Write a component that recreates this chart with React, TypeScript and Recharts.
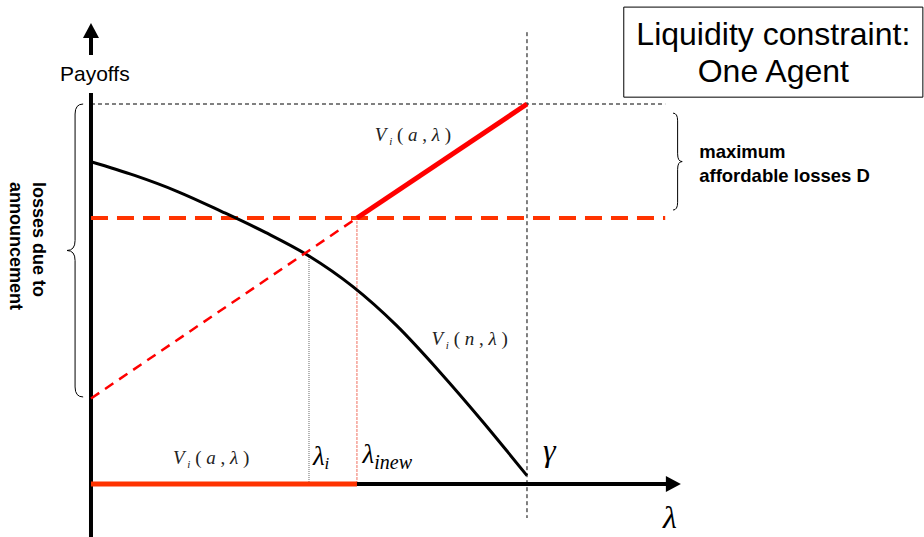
import React from 'react';
import { Line, LineChart, ReferenceArea, ReferenceDot, ReferenceLine, XAxis, YAxis } from 'recharts';

// lambda grid and V_i(n, lambda) (gamma = 10, top of D = 10)
const LAMBDA = [0, 1, 2, 3, 4, 5, 6, 7, 8, 9, 10];
const VN = [8.48, 8.12, 7.69, 7.17, 6.62, 6.0, 5.2, 4.18, 2.95, 1.62, 0.22];

// V_i(a, lambda): straight line, dashed below lambda_inew, solid above
const VA_LAMBDA = [0, 6.1, 10];
const VA_VALUE = [2.25, 7.0, 10];

const LAMBDA_I = 5.0;
const LAMBDA_INEW = 6.1;
const GAMMA = 10;
const D_TOP = 10;
const D_FLOOR = 7.0;

const X_MIN = -2.087;
const X_MAX = 19.106;
const Y_MIN = -1.395;
const Y_MAX = 12.737;
const AXIS_END = 13.19;
const GUIDE_END = 13.17;

const SANS = '"Liberation Sans", Arial, sans-serif';
const SERIF = '"Liberation Serif", "Times New Roman", serif';

const vnData = LAMBDA.map((x, i) => ({ x, y: VN[i] }));
const vaDashed = VA_LAMBDA.slice(0, 2).map((x, i) => ({ x, y: VA_VALUE[i] }));
const vaSolid = VA_LAMBDA.slice(1).map((x, i) => ({ x, y: VA_VALUE[i + 1] }));

const txt = (render: (cx: number, cy: number) => React.ReactNode) => (p: any) => (
  <g>{render(p.cx, p.cy)}</g>
);

const vLabel = (arg: string) =>
  txt((cx, cy) => (
    <text x={cx} y={cy} fontFamily={SERIF} fontSize={19} fill="#222" style={{ whiteSpace: 'pre' }}>
      <tspan fontStyle="italic">V</tspan>
      <tspan fontStyle="italic" fontSize={11} dy={4}> i</tspan>
      <tspan dy={-4}> ( </tspan>
      <tspan fontStyle="italic">{arg}</tspan>
      <tspan> , </tspan>
      <tspan fontStyle="italic">λ</tspan>
      <tspan> )</tspan>
    </text>
  ));

const brace = (dir: 'left' | 'right') => (p: any) => {
  const { x, y, width: w, height: h } = p;
  const mid = y + h / 2;
  const xc = x + w / 2;
  const back = dir === 'left' ? x + w : x;
  const tip = dir === 'left' ? x : x + w;
  const r = Math.min(10, h * 0.08);
  const d = `M${back},${y} Q${xc},${y} ${xc},${y + r} L${xc},${mid - r} Q${xc},${mid} ${tip},${mid} Q${xc},${mid} ${xc},${mid + r} L${xc},${y + h - r} Q${xc},${y + h} ${back},${y + h}`;
  return <path d={d} fill="none" stroke="#000" strokeWidth={1} />;
};

const App: React.FC = () => {
  return (
    <div style={{ position: 'absolute', left: 0, top: 0, width: 924, height: 537, background: '#fff' }}>
      <LineChart width={924} height={537} margin={{ top: 0, right: 0, bottom: 0, left: 0 }}>
        <XAxis type="number" dataKey="x" domain={[X_MIN, X_MAX]} allowDataOverflow hide />
        <YAxis type="number" dataKey="y" domain={[Y_MIN, Y_MAX]} allowDataOverflow hide />

        {/* title box */}
        <ReferenceArea x1={12.22} x2={19.08} y1={10.18} y2={12.55} fill="#fff" fillOpacity={1} stroke="#000" strokeWidth={1} />
        <ReferenceDot x={15.65} y={11.55} r={0} shape={txt((cx, cy) => (
          <text x={cx} y={cy} textAnchor="middle" fontFamily={SANS} fontSize={32} fill="#000">Liquidity constraint:</text>
        ))} />
        <ReferenceDot x={15.65} y={10.58} r={0} shape={txt((cx, cy) => (
          <text x={cx} y={cy} textAnchor="middle" fontFamily={SANS} fontSize={32} fill="#000">One Agent</text>
        ))} />

        {/* guides */}
        <ReferenceLine segment={[{ x: 0, y: D_TOP }, { x: GUIDE_END, y: D_TOP }]} stroke="#000" strokeWidth={1} strokeDasharray="4 3" />
        <ReferenceLine segment={[{ x: GAMMA, y: 11.89 }, { x: GAMMA, y: -0.895 }]} stroke="#000" strokeWidth={1} strokeDasharray="4 3" />
        <ReferenceLine segment={[{ x: LAMBDA_I, y: 0 }, { x: LAMBDA_I, y: VN[5] }]} stroke="#666" strokeWidth={1} strokeDasharray="1 1" />
        <ReferenceLine segment={[{ x: LAMBDA_INEW, y: 0 }, { x: LAMBDA_INEW, y: D_FLOOR }]} stroke="#F07060" strokeWidth={1} strokeDasharray="3 1" />

        {/* axes */}
        <ReferenceLine segment={[{ x: 0, y: Y_MIN }, { x: 0, y: 10.29 }]} stroke="#000" strokeWidth={4} />
        <ReferenceLine segment={[{ x: 0, y: 11.29 }, { x: 0, y: 11.8 }]} stroke="#000" strokeWidth={4} />
        <ReferenceDot x={0} y={12.13} r={0} shape={txt((cx, cy) => (
          <polygon points={`${cx},${cy} ${cx - 8},${cy + 15} ${cx + 8},${cy + 15}`} fill="#000" />
        ))} />
        <ReferenceLine segment={[{ x: 0, y: 0 }, { x: AXIS_END, y: 0 }]} stroke="#000" strokeWidth={4} />
        <ReferenceDot x={13.53} y={0} r={0} shape={txt((cx, cy) => (
          <polygon points={`${cx},${cy} ${cx - 15},${cy - 8} ${cx - 15},${cy + 8}`} fill="#000" />
        ))} />
        <ReferenceLine segment={[{ x: 0, y: 0 }, { x: LAMBDA_INEW, y: 0 }]} stroke="#FF3300" strokeWidth={5} />

        <ReferenceLine segment={[{ x: 0, y: D_FLOOR }, { x: GUIDE_END, y: D_FLOOR }]} stroke="#FF3300" strokeWidth={4} strokeDasharray="17 9" />

        {/* braces */}
        <ReferenceArea x1={-0.55} x2={-0.18} y1={2.29} y2={D_TOP} shape={brace('left')} />
        <ReferenceArea x1={13.35} x2={13.56} y1={7.21} y2={9.76} shape={brace('right')} />

        <Line data={vnData} dataKey="y" type="monotone" stroke="#000" strokeWidth={3} dot={false} activeDot={false} isAnimationActive={false} />
        <Line data={vaDashed} dataKey="y" type="linear" stroke="#FF0000" strokeWidth={2.5} strokeDasharray="10 7" dot={false} activeDot={false} isAnimationActive={false} />
        <Line data={vaSolid} dataKey="y" type="linear" stroke="#FF0000" strokeWidth={5} dot={false} activeDot={false} isAnimationActive={false} />

        {/* labels */}
        <ReferenceDot x={-0.711} y={10.605} r={0} shape={txt((cx, cy) => (
          <text x={cx} y={cy} fontFamily={SANS} fontSize={21} fill="#000">Payoffs</text>
        ))} />
        <ReferenceDot x={-1.32} y={7.95} r={0} shape={txt((cx, cy) => (
          <text x={cx} y={cy} transform={`rotate(90, ${cx}, ${cy})`} fontFamily={SANS} fontSize={18} fontWeight="bold" fill="#000">losses due to</text>
        ))} />
        <ReferenceDot x={-1.86} y={7.95} r={0} shape={txt((cx, cy) => (
          <text x={cx} y={cy} transform={`rotate(90, ${cx}, ${cy})`} fontFamily={SANS} fontSize={18} fontWeight="bold" fill="#000">announcement</text>
        ))} />
        <ReferenceDot x={13.95} y={8.58} r={0} shape={txt((cx, cy) => (
          <text x={cx} y={cy} fontFamily={SANS} fontSize={18.5} fontWeight="bold" fill="#000">maximum</text>
        ))} />
        <ReferenceDot x={13.95} y={7.95} r={0} shape={txt((cx, cy) => (
          <text x={cx} y={cy} fontFamily={SANS} fontSize={18.5} fontWeight="bold" fill="#000">affordable losses D</text>
        ))} />
        <ReferenceDot x={6.51} y={9.03} r={0} shape={vLabel('a')} />
        <ReferenceDot x={7.81} y={3.66} r={0} shape={vLabel('n')} />
        <ReferenceDot x={1.88} y={0.526} r={0} shape={vLabel('a')} />
        <ReferenceDot x={5.09} y={0.5} r={0} shape={txt((cx, cy) => (
          <text x={cx} y={cy} fontFamily={SERIF} fontStyle="italic" fontSize={27} fill="#000">
            λ<tspan fontSize={17} dy={4}>i</tspan>
          </text>
        ))} />
        <ReferenceDot x={6.23} y={0.55} r={0} shape={txt((cx, cy) => (
          <text x={cx} y={cy} fontFamily={SERIF} fontStyle="italic" fontSize={27} fill="#000">
            λ<tspan fontSize={20} dy={6}>inew</tspan>
          </text>
        ))} />
        <ReferenceDot x={10.37} y={0.6} r={0} shape={txt((cx, cy) => (
          <text x={cx} y={cy} fontFamily={SERIF} fontStyle="italic" fontSize={32} fill="#000">γ</text>
        ))} />
        <ReferenceDot x={13.12} y={-1.16} r={0} shape={txt((cx, cy) => (
          <text x={cx} y={cy} fontFamily={SERIF} fontStyle="italic" fontSize={32} fill="#000">λ</text>
        ))} />
      </LineChart>
    </div>
  );
};

export default App;
